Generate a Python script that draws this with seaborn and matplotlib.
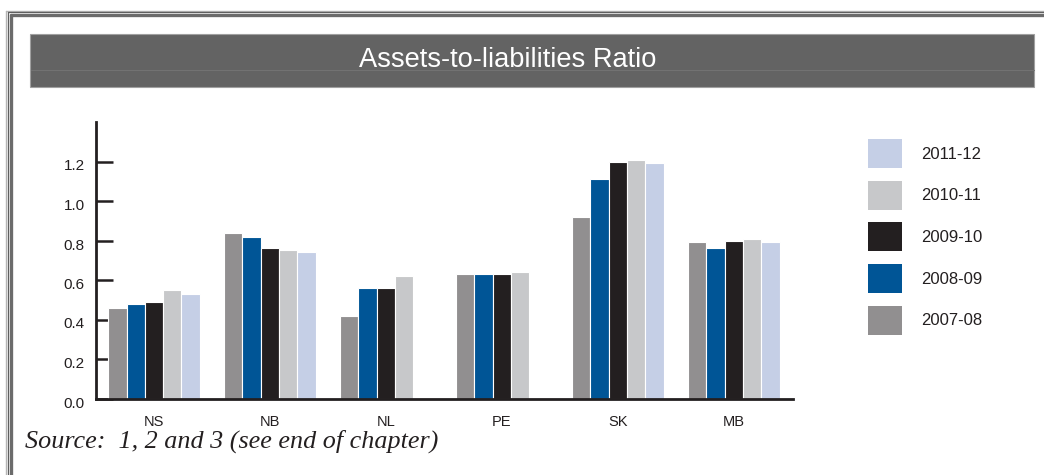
import matplotlib
matplotlib.use("Agg")
import matplotlib.pyplot as plt
import matplotlib.transforms as mtransforms
from matplotlib.patches import Rectangle, Patch
from matplotlib.lines import Line2D
import numpy as np
import pandas as pd
import seaborn as sns

# Provinces on the x axis
provinces = ["NS", "NB", "NL", "PE", "SK", "MB"]
# Fiscal years, in drawing order within each group
years = ["2007-08", "2008-09", "2009-10", "2010-11", "2011-12"]

# Assets-to-liabilities ratio per province, one list per fiscal year
# (None where no figure was reported)
ratio_2007_08 = [0.46, 0.84, 0.42, 0.63, 0.92, 0.79]
ratio_2008_09 = [0.48, 0.82, 0.56, 0.63, 1.11, 0.76]
ratio_2009_10 = [0.49, 0.76, 0.56, 0.63, 1.20, 0.80]
ratio_2010_11 = [0.55, 0.75, 0.62, 0.64, 1.21, 0.81]
ratio_2011_12 = [0.53, 0.74, None, None, 1.19, 0.79]

y_ticks = [0.0, 0.2, 0.4, 0.6, 0.8, 1.0, 1.2]

year_colors = ["#918f90", "#005596", "#231f20", "#c7c8ca", "#c5cfe6"]

series = [ratio_2007_08, ratio_2008_09, ratio_2009_10, ratio_2010_11, ratio_2011_12]
rows = []
for yr, vals in zip(years, series):
    for prov, v in zip(provinces, vals):
        if v is not None:
            rows.append({"province": prov, "year": yr, "ratio": v})
df = pd.DataFrame(rows)

sns.set_theme(style="white")
plt.rcParams["font.family"] = ["Liberation Sans", "DejaVu Sans"]

W, H = 1044, 475
fig = plt.figure(figsize=(W / 100, H / 100), dpi=100)
fig.patch.set_facecolor("white")


def fx(px):
    return px / W


def fy(py):
    return 1 - py / H


# Page frame: thin double line plus a heavier inner rule
fig.add_artist(Line2D([fx(5.5), fx(5.5)], [fy(10.5), fy(480)], color="#b5b5b5", lw=1.0))
fig.add_artist(Line2D([fx(5.5), fx(1050)], [fy(10.5), fy(10.5)], color="#b5b5b5", lw=1.0))
fig.add_artist(Line2D([fx(7.5), fx(7.5)], [fy(12), fy(480)], color="#5f5f5f", lw=0.9))
fig.add_artist(Line2D([fx(7.5), fx(1050)], [fy(12), fy(12)], color="#5f5f5f", lw=0.9))
fig.add_artist(Line2D([fx(11), fx(11)], [fy(15), fy(480)], color="#6b6b6b", lw=2.4))
fig.add_artist(Line2D([fx(11), fx(1050)], [fy(15), fy(15)], color="#6b6b6b", lw=2.4))

# Title banner
fig.add_artist(Rectangle((fx(30), fy(87)), fx(1034) - fx(30), fy(34) - fy(87),
                         facecolor="#636363", edgecolor="#a0a0a0", lw=0.8))
fig.add_artist(Line2D([fx(30.5), fx(1033.5)], [fy(69.5), fy(69.5)], color="#727272", lw=0.8))
fig.text(fx(508), fy(60), "Assets-to-liabilities Ratio", color="white",
         fontsize=19.6, ha="center", va="center")

# Chart area
ax = fig.add_axes([fx(96), fy(398.5), fx(793) - fx(96), fy(122) - fy(398.5)])
sns.barplot(data=df, x="province", y="ratio", hue="year", order=provinces,
            hue_order=years, palette=year_colors, width=0.79, errorbar=None,
            edgecolor="white", linewidth=0.8, saturation=1, legend=False, ax=ax)

ax.set_xlim(-0.5, 5.51)
ax.set_ylim(0, 1.4)
ax.set_yticks(y_ticks)
ax.set_yticklabels([f"{t:.1f}" for t in y_ticks])
ax.set_xlabel("")
ax.set_ylabel("")
ax.set_facecolor("white")
for side in ["top", "right"]:
    ax.spines[side].set_visible(False)
for side in ["left", "bottom"]:
    ax.spines[side].set_color("#231f20")
    ax.spines[side].set_linewidth(2.0)
ax.tick_params(axis="y", direction="in", length=12, width=1.8, color="#231f20",
               labelsize=11, labelcolor="#231f20", pad=8, left=True)
ax.tick_params(axis="x", length=0, labelsize=10.5, labelcolor="#231f20", pad=12)
ax.grid(False)

# Value labels sit a touch below their tick marks
shift = mtransforms.ScaledTranslation(0, -0.035, fig.dpi_scale_trans)
for lbl in ax.get_yticklabels():
    lbl.set_transform(lbl.get_transform() + shift)

# Legend, newest year on top
handles = [Patch(facecolor=c, edgecolor="none", label=y)
           for y, c in zip(years, year_colors)][::-1]
fig.legend(handles=handles, loc="upper left", bbox_to_anchor=(fx(868), fy(139)),
           frameon=False, fontsize=12, handlelength=2.05, handleheight=2.3,
           labelspacing=0.76, handletextpad=1.12, borderpad=0, borderaxespad=0,
           labelcolor="#231f20")

# Source note
fig.text(fx(25), fy(441), "Source:  1, 2 and 3 (see end of chapter)",
         family=["Liberation Serif", "DejaVu Serif"], style="italic",
         fontsize=18.8, color="#231f20", ha="left", va="center")

fig.savefig("out.png", dpi=100, facecolor="white")
